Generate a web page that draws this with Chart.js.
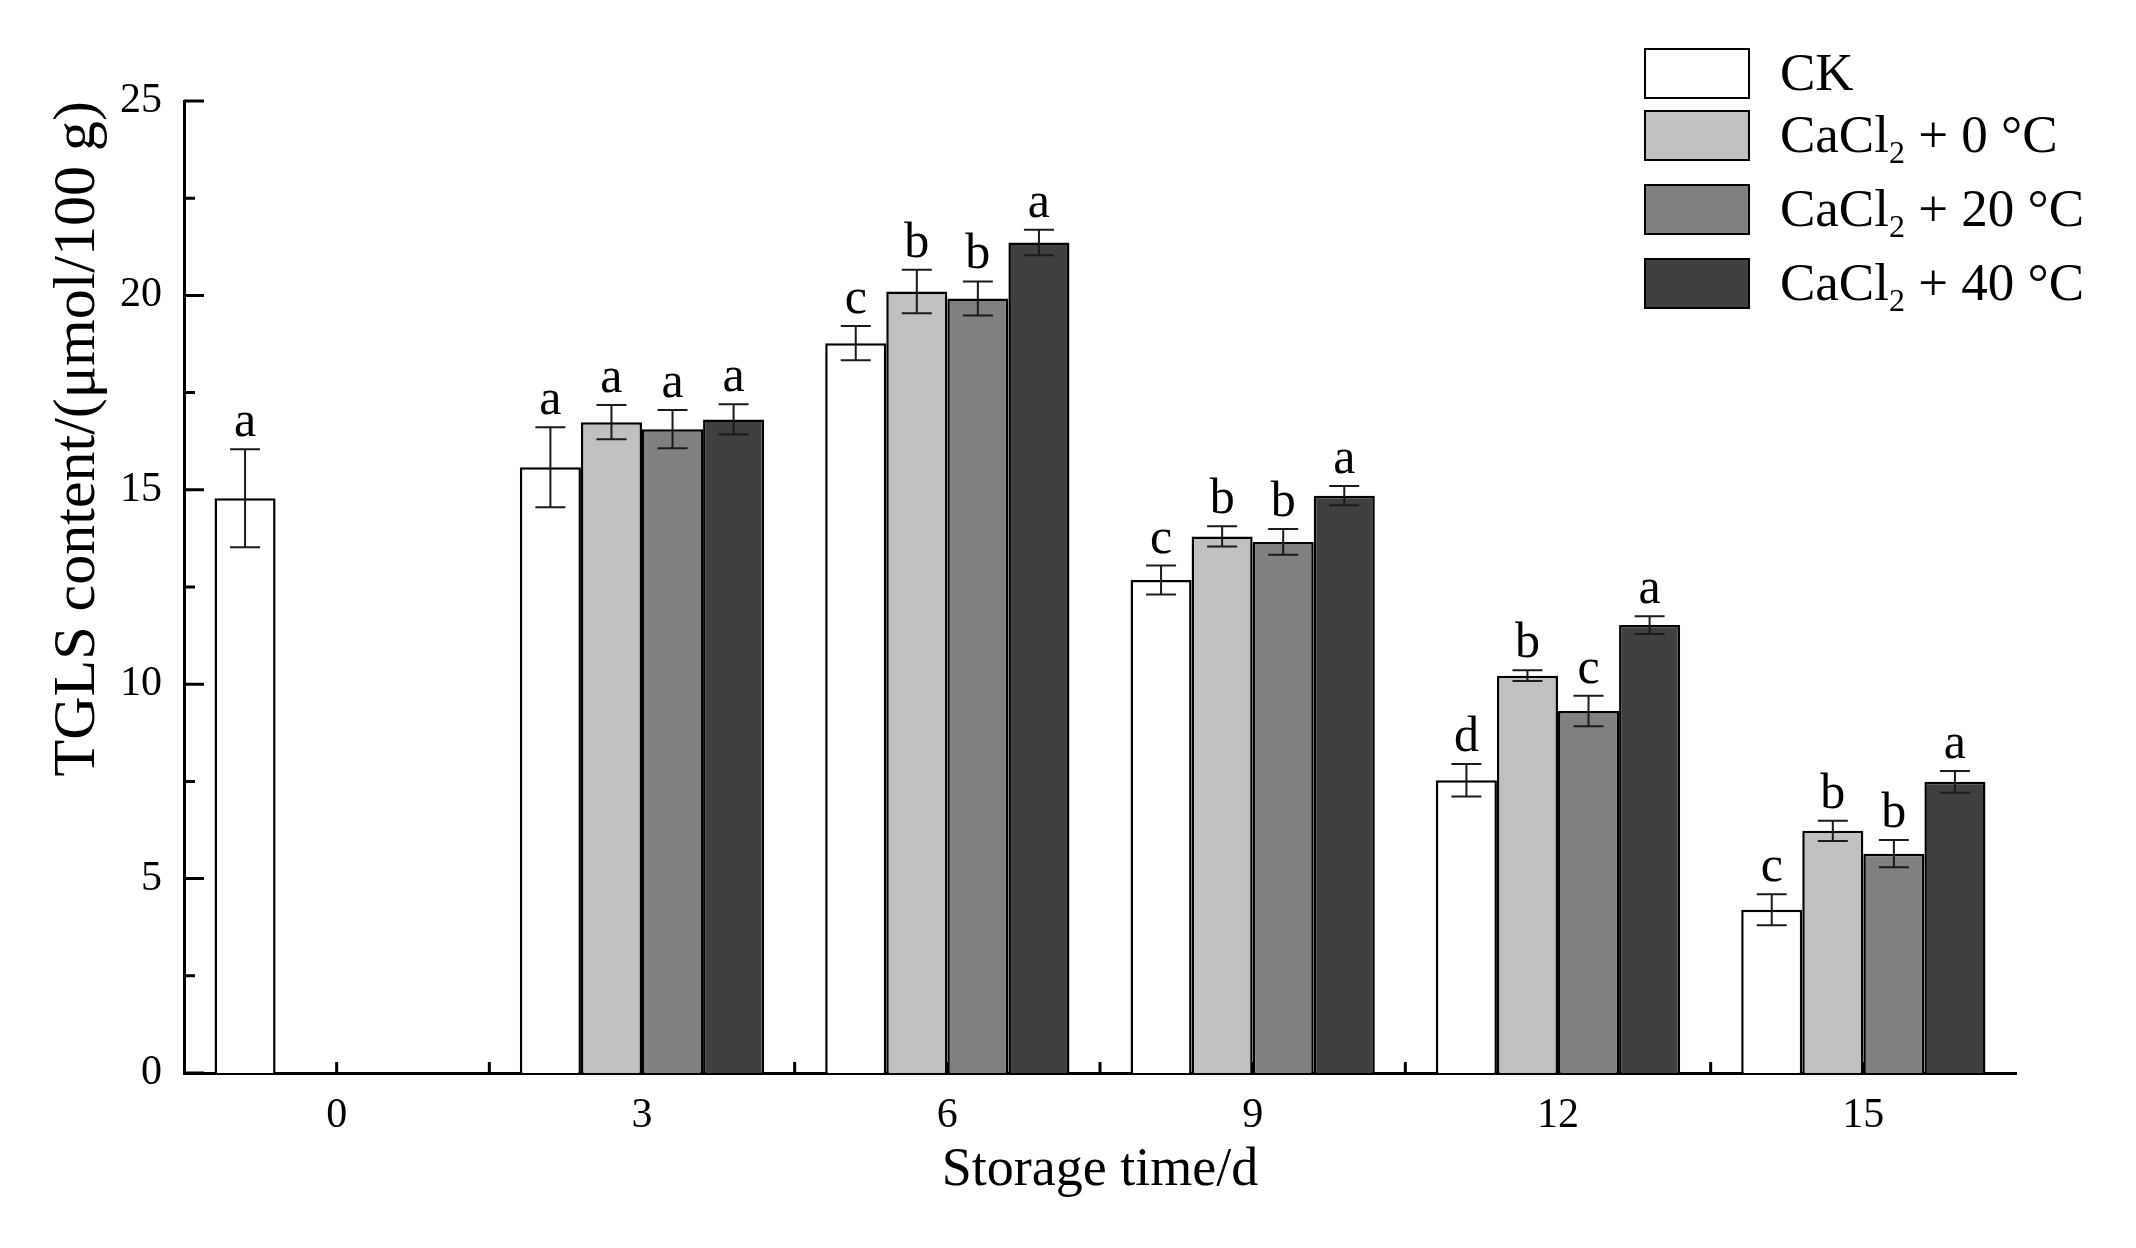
<!DOCTYPE html>
<html>
<head>
<meta charset="utf-8">
<script src="https://cdn.jsdelivr.net/npm/chart.js@4.4.1/dist/chart.umd.min.js"></script>
<style>
  html, body { margin: 0; padding: 0; background: #fff; }
  #wrap { position: relative; width: 2136px; height: 1248px; }
  #legend { position: absolute; left: 0; top: 0; font-family: "Liberation Serif", "Times New Roman", serif; color: #000; }
  .row { position: absolute; left: 1644px; height: 50px; white-space: nowrap; }
  .box { position: absolute; left: 0; top: 0; width: 102px; height: 47px; border: 2px solid #000; }
  .lbl { position: absolute; left: 136px; top: -6px; font-size: 53px; line-height: 60px; }
  .lbl sub { font-size: 32px; vertical-align: -0.35em; line-height: 0; }
</style>
</head>
<body>
<div id="wrap">
  <canvas id="chart" width="2136" height="1248"></canvas>
  <div id="legend"></div>
</div>
<script>
// storage time (d)
const days = ["0", "3", "6", "9", "12", "15"];

// TGLS content, μmol/100 g
const ck     = [14.78, 15.58, 18.77, 12.68, 7.53, 4.20];
const cacl0  = [null, 16.74, 20.10, 13.80, 10.22, 6.23];
const cacl20 = [null, 16.56, 19.92, 13.66, 9.31, 5.64];
const cacl40 = [null, 16.81, 21.36, 14.85, 11.52, 7.49];

// standard deviations
const ckErr     = [1.26, 1.03, 0.44, 0.37, 0.42, 0.40];
const cacl0Err  = [null, 0.44, 0.56, 0.26, 0.14, 0.26];
const cacl20Err = [null, 0.49, 0.44, 0.33, 0.39, 0.35];
const cacl40Err = [null, 0.39, 0.33, 0.25, 0.23, 0.28];

// significance letters
const ckSig     = ["a", "a", "c", "c", "d", "c"];
const cacl0Sig  = ["", "a", "b", "b", "b", "b"];
const cacl20Sig = ["", "a", "b", "b", "c", "b"];
const cacl40Sig = ["", "a", "a", "a", "a", "a"];

const yTicks = [0, 5, 10, 15, 20, 25];

const serif = "'Liberation Serif', 'Times New Roman', serif";

const mkSet = (label, html, data, err, sig, fill) => ({
    label: label,
    legendHtml: html,
    data: data,
    err: err,
    sig: sig,
    backgroundColor: fill,
    borderColor: "#000",
    borderWidth: 2.5,
    borderSkipped: "bottom",
    categoryPercentage: 0.8,
    barPercentage: 1.0,
});

const datasets = [
    mkSet("CK", "CK", ck, ckErr, ckSig, "#ffffff"),
    mkSet("CaCl₂ + 0 °C", "CaCl<sub>2</sub> + 0 °C", cacl0, cacl0Err, cacl0Sig, "#c0c0c0"),
    mkSet("CaCl₂ + 20 °C", "CaCl<sub>2</sub> + 20 °C", cacl20, cacl20Err, cacl20Sig, "#808080"),
    mkSet("CaCl₂ + 40 °C", "CaCl<sub>2</sub> + 40 °C", cacl40, cacl40Err, cacl40Sig, "#404040"),
];

// inward tick marks on both axes
const tickMarks = {
    id: "tickMarks",
    afterDatasetsDraw(chart) {
        const ctx = chart.ctx;
        const x = chart.scales.x;
        const y = chart.scales.y;
        ctx.save();
        ctx.strokeStyle = "#000";
        ctx.lineWidth = 3;
        ctx.beginPath();
        for (let v = 0; v <= 25; v += 2.5) {
            const py = y.getPixelForValue(v);
            const len = v % 5 === 0 ? 20 : 11;
            ctx.moveTo(x.left, py);
            ctx.lineTo(x.left + len, py);
        }
        const step = (x.right - x.left) / days.length;
        for (let k = 1; k < days.length * 2; k++) {
            const px = x.left + k * step / 2;
            ctx.moveTo(px, y.bottom);
            ctx.lineTo(px, y.bottom - 11);
        }
        ctx.stroke();
        ctx.restore();
    },
};

// error bars and letters
const errorBars = {
    id: "errorBars",
    afterDatasetsDraw(chart) {
        const ctx = chart.ctx;
        const y = chart.scales.y;
        ctx.save();
        chart.data.datasets.forEach((ds, i) => {
            const meta = chart.getDatasetMeta(i);
            meta.data.forEach((bar, j) => {
                const v = ds.data[j];
                if (v === null) return;
                const e = ds.err[j];
                const top = y.getPixelForValue(v + e);
                const bot = y.getPixelForValue(v - e);
                ctx.strokeStyle = "#1a1a1a";
                ctx.lineWidth = 2;
                ctx.beginPath();
                ctx.moveTo(bar.x, top);
                ctx.lineTo(bar.x, bot);
                ctx.moveTo(bar.x - 15, top);
                ctx.lineTo(bar.x + 15, top);
                ctx.moveTo(bar.x - 15, bot);
                ctx.lineTo(bar.x + 15, bot);
                ctx.stroke();
                ctx.fillStyle = "#000";
                ctx.font = "50px " + serif;
                ctx.textAlign = "center";
                ctx.textBaseline = "alphabetic";
                ctx.fillText(ds.sig[j], bar.x, top - 13);
            });
        });
        ctx.restore();
    },
};

const chart = new Chart(document.getElementById("chart"), {
    type: "bar",
    data: { labels: days, datasets: datasets },
    options: {
        responsive: false,
        animation: false,
        devicePixelRatio: 1,
        layout: { padding: { top: 101, right: 120, left: 0, bottom: 0 } },
        plugins: {
            legend: { display: false },
            tooltip: { enabled: false },
        },
        scales: {
            x: {
                offset: true,
                grid: { display: false, drawTicks: false },
                border: { display: true, color: "#000", width: 3 },
                ticks: { color: "#000", font: { family: serif, size: 42 }, padding: 18 },
                title: {
                    display: true,
                    text: "Storage time/d",
                    color: "#000",
                    font: { family: serif, size: 54 },
                    padding: { top: 0, bottom: 45 },
                },
                afterFit: (scale) => { scale.height = 175; },
            },
            y: {
                min: 0,
                max: 25,
                afterBuildTicks: (scale) => { scale.ticks = yTicks.map((v) => ({ value: v })); },
                grid: { display: false, drawTicks: false },
                border: { display: true, color: "#000", width: 3 },
                ticks: { color: "#000", font: { family: serif, size: 42 }, padding: 22 },
                title: {
                    display: true,
                    text: "TGLS content/(μmol/100 g)",
                    align: "end",
                    color: "#000",
                    font: { family: serif, size: 60 },
                    padding: { top: 42, bottom: 0 },
                },
                afterFit: (scale) => { scale.width = 184; },
            },
        },
    },
    plugins: [tickMarks, errorBars],
});

// legend, built from the datasets
const rowTops = [48, 110, 184, 258];
const legend = document.getElementById("legend");
datasets.forEach((ds, i) => {
    const row = document.createElement("div");
    row.className = "row";
    row.style.top = rowTops[i] + "px";
    row.innerHTML = '<div class="box" style="background:' + ds.backgroundColor + '"></div>' +
        '<div class="lbl">' + ds.legendHtml + "</div>";
    legend.appendChild(row);
});
</script>
</body>
</html>
